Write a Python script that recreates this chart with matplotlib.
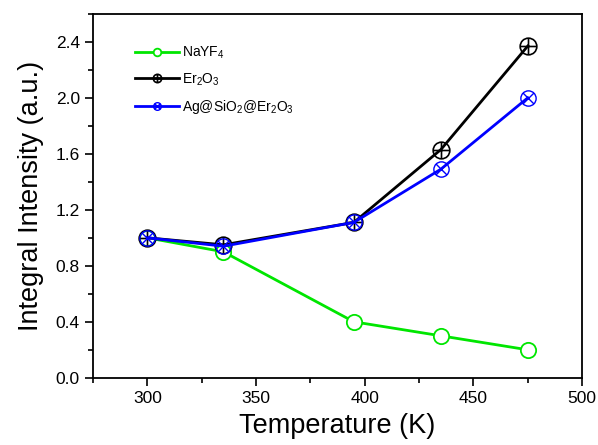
import matplotlib
matplotlib.use("Agg")
import matplotlib.pyplot as plt
import numpy as np
from matplotlib.path import Path
from matplotlib.ticker import MultipleLocator

plt.rcParams['font.family'] = ['Liberation Sans', 'DejaVu Sans']
plt.rcParams['mathtext.default'] = 'regular'

temperature = [300, 335, 395, 435, 475]
nayf4 = [1.0, 0.90, 0.40, 0.30, 0.20]
er2o3 = [1.0, 0.95, 1.11, 1.63, 2.37]
ag_sio2_er2o3 = [1.0, 0.94, 1.11, 1.49, 2.0]

labels = ["NaYF$_4$", "Er$_2$O$_3$", "Ag@SiO$_2$@Er$_2$O$_3$"]


def circle_with(kind):
    circle = Path.unit_circle()
    if kind == "plus":
        segs = [Path([[-1, 0], [1, 0]], [Path.MOVETO, Path.LINETO]),
                Path([[0, -1], [0, 1]], [Path.MOVETO, Path.LINETO])]
    else:
        d = np.sqrt(0.5)
        segs = [Path([[-d, -d], [d, d]], [Path.MOVETO, Path.LINETO]),
                Path([[-d, d], [d, -d]], [Path.MOVETO, Path.LINETO])]
    return Path.make_compound_path(circle, *segs)


oplus = circle_with("plus")
otimes = circle_with("cross")

fig = plt.figure(figsize=(5.98, 4.45), dpi=100)
ax = fig.add_axes([0.1555, 0.151, 0.818, 0.818])

ax.plot(temperature, nayf4, color="#00e600", linewidth=2, marker="o",
        markersize=11, markerfacecolor="white", markeredgecolor="#00e600",
        markeredgewidth=1.3, label=labels[0])
ax.plot(temperature, er2o3, color="black", linewidth=2, marker=oplus,
        markersize=12, markerfacecolor="none", markeredgecolor="black",
        markeredgewidth=1.2, label=labels[1])
ax.plot(temperature, ag_sio2_er2o3, color="#0000ff", linewidth=2, marker=otimes,
        markersize=11, markerfacecolor="none", markeredgecolor="#0000ff",
        markeredgewidth=1.0, label=labels[2])

ax.set_xlim(275, 500)
ax.set_ylim(0, 2.6)
ax.xaxis.set_major_locator(MultipleLocator(50))
ax.xaxis.set_minor_locator(MultipleLocator(25))
ax.yaxis.set_major_locator(MultipleLocator(0.4))
ax.yaxis.set_minor_locator(MultipleLocator(0.2))
ax.yaxis.set_major_formatter(matplotlib.ticker.FormatStrFormatter('%.1f'))

ax.tick_params(which="both", direction="out", top=False, right=False,
               width=1.2, labelsize=12.5)
ax.tick_params(which="major", length=6)
ax.tick_params(which="minor", length=3.5)
for sp in ax.spines.values():
    sp.set_linewidth(1.3)

ax.set_xlabel("Temperature (K)", fontsize=19.5, labelpad=5)
ax.set_ylabel("Integral Intensity (a.u.)", fontsize=19.5, labelpad=8)

ax.legend(loc="upper left", bbox_to_anchor=(0.06, 0.95), frameon=False,
          fontsize=10, markerscale=0.5, handlelength=3.2, handletextpad=0.2,
          labelspacing=0.75)

fig.savefig("out.png", dpi=100)
